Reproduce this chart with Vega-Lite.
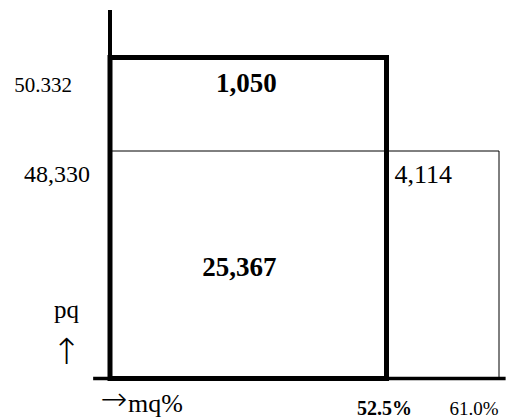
{
  "$schema": "https://vega.github.io/schema/vega-lite/v6.json",
  "width": 508,
  "height": 419,
  "autosize": "none",
  "padding": 0,
  "background": "white",
  "config": {
    "view": {"stroke": null},
    "axis": {"disable": true},
    "text": {"font": "Liberation Serif", "color": "black"}
  },
  "datasets": {
    "bars": [
      {"segment": "total", "mq": 61.0, "mqLabel": "61.0%", "pq": 48330, "pqLabel": "48,330"},
      {"segment": "group", "mq": 52.5, "mqLabel": "52.5%", "pq": 50332, "pqLabel": "50.332"}
    ],
    "areas": [
      {"region": "top", "value": 1050, "label": "1,050"},
      {"region": "main", "value": 25367, "label": "25,367"},
      {"region": "extra", "value": 4114, "label": "4,114"}
    ]
  },
  "layer": [
    {
      "data": {"name": "bars"},
      "transform": [{"filter": "datum.segment === 'total'"}],
      "mark": {"type": "rect", "fill": "transparent", "stroke": "black", "strokeWidth": 1},
      "encoding": {
        "x": {"field": "mq", "type": "quantitative", "axis": null,
              "scale": {"domain": [0, 52.5, 61], "range": [110, 386.5, 499], "nice": false, "zero": false}},
        "x2": {"datum": 0},
        "y": {"field": "pq", "type": "quantitative", "axis": null,
              "scale": {"domain": [0, 48330, 50332, 51000], "range": [378.5, 151, 57.5, 10], "nice": false, "zero": false}},
        "y2": {"datum": 0}
      }
    },
    {
      "data": {"name": "bars"},
      "transform": [{"filter": "datum.segment === 'group'"}],
      "mark": {"type": "rect", "fill": "transparent", "stroke": "black", "strokeWidth": 5},
      "encoding": {
        "x": {"field": "mq", "type": "quantitative"},
        "x2": {"datum": 0},
        "y": {"field": "pq", "type": "quantitative"},
        "y2": {"datum": 0}
      }
    },
    {
      "data": {"values": [{}]},
      "mark": {"type": "rule", "stroke": "black", "strokeWidth": 4},
      "encoding": {
        "x": {"datum": 0, "type": "quantitative"},
        "y": {"datum": 0, "type": "quantitative"},
        "y2": {"datum": 51000}
      }
    },
    {
      "data": {"values": [{}]},
      "mark": {"type": "rule", "stroke": "black", "strokeWidth": 3.5},
      "encoding": {
        "x": {"datum": -3.2, "type": "quantitative"},
        "x2": {"datum": 61.5},
        "y": {"datum": 0, "type": "quantitative"}
      }
    },
    {
      "data": {"name": "bars"},
      "transform": [{"filter": "datum.segment === 'group'"}],
      "mark": {"type": "text", "font": "Liberation Serif", "align": "right", "baseline": "middle", "dx": -38, "dy": 28, "fontSize": 21},
      "encoding": {
        "x": {"datum": 0, "type": "quantitative"},
        "y": {"field": "pq", "type": "quantitative"},
        "text": {"field": "pqLabel"}
      }
    },
    {
      "data": {"name": "bars"},
      "transform": [{"filter": "datum.segment === 'total'"}],
      "mark": {"type": "text", "font": "Liberation Serif", "align": "right", "baseline": "middle", "dx": -20, "dy": 24, "fontSize": 24},
      "encoding": {
        "x": {"datum": 0, "type": "quantitative"},
        "y": {"field": "pq", "type": "quantitative"},
        "text": {"field": "pqLabel"}
      }
    },
    {
      "data": {"name": "bars"},
      "transform": [{"filter": "datum.segment === 'group'"}],
      "mark": {"type": "text", "font": "Liberation Serif", "align": "center", "baseline": "middle", "dx": -2, "dy": 30, "fontSize": 20, "fontWeight": "bold"},
      "encoding": {
        "x": {"field": "mq", "type": "quantitative"},
        "y": {"datum": 0, "type": "quantitative"},
        "text": {"field": "mqLabel"}
      }
    },
    {
      "data": {"name": "bars"},
      "transform": [{"filter": "datum.segment === 'total'"}],
      "mark": {"type": "text", "font": "Liberation Serif", "align": "center", "baseline": "middle", "dx": -25, "dy": 30, "fontSize": 19},
      "encoding": {
        "x": {"field": "mq", "type": "quantitative"},
        "y": {"datum": 0, "type": "quantitative"},
        "text": {"field": "mqLabel"}
      }
    },
    {
      "data": {"name": "areas"},
      "transform": [{"filter": "datum.region === 'top'"}],
      "mark": {"type": "text", "font": "Liberation Serif", "align": "center", "baseline": "middle", "dx": -2, "dy": -20, "fontSize": 27, "fontWeight": "bold"},
      "encoding": {
        "x": {"datum": 26.25, "type": "quantitative"},
        "y": {"datum": 49331, "type": "quantitative"},
        "text": {"field": "label"}
      }
    },
    {
      "data": {"name": "areas"},
      "transform": [{"filter": "datum.region === 'main'"}],
      "mark": {"type": "text", "font": "Liberation Serif", "align": "center", "baseline": "middle", "dx": -9, "dy": 3, "fontSize": 27, "fontWeight": "bold"},
      "encoding": {
        "x": {"datum": 26.25, "type": "quantitative"},
        "y": {"datum": 24165, "type": "quantitative"},
        "text": {"field": "label"}
      }
    },
    {
      "data": {"name": "areas"},
      "transform": [{"filter": "datum.region === 'extra'"}],
      "mark": {"type": "text", "font": "Liberation Serif", "align": "left", "baseline": "middle", "dx": 8, "dy": 24, "fontSize": 26},
      "encoding": {
        "x": {"datum": 52.5, "type": "quantitative"},
        "y": {"datum": 48330, "type": "quantitative"},
        "text": {"field": "label"}
      }
    },
    {
      "data": {"values": [{"title": "pq"}]},
      "mark": {"type": "text", "font": "Liberation Serif", "align": "center", "baseline": "alphabetic", "dx": -43.5, "dy": -60.5, "fontSize": 25},
      "encoding": {
        "x": {"datum": 0, "type": "quantitative"},
        "y": {"datum": 0, "type": "quantitative"},
        "text": {"field": "title"}
      }
    },
    {
      "data": {"values": [{"title": "↑"}]},
      "mark": {"type": "text", "font": "DejaVu Sans", "fontWeight": 200, "align": "center", "baseline": "middle", "dx": -43.5, "dy": -26, "fontSize": 36},
      "encoding": {
        "x": {"datum": 0, "type": "quantitative"},
        "y": {"datum": 0, "type": "quantitative"},
        "text": {"field": "title"}
      }
    },
    {
      "data": {"values": [{"title": "→"}]},
      "mark": {"type": "text", "font": "DejaVu Sans", "fontWeight": 200, "align": "center", "baseline": "middle", "dx": 4, "dy": 21, "fontSize": 32},
      "encoding": {
        "x": {"datum": 0, "type": "quantitative"},
        "y": {"datum": 0, "type": "quantitative"},
        "text": {"field": "title"}
      }
    },
    {
      "data": {"values": [{"title": "mq%"}]},
      "mark": {"type": "text", "font": "Liberation Serif", "align": "left", "baseline": "alphabetic", "dx": 18, "dy": 33, "fontSize": 26},
      "encoding": {
        "x": {"datum": 0, "type": "quantitative"},
        "y": {"datum": 0, "type": "quantitative"},
        "text": {"field": "title"}
      }
    }
  ]
}
